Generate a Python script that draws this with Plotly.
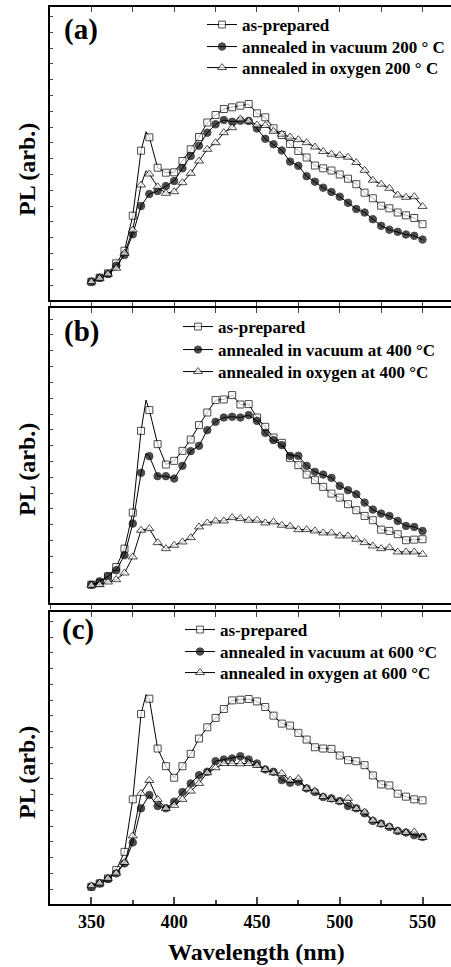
import plotly.graph_objects as go

# Wavelength grid of the plotted markers (nm)
wl = [350, 355, 360, 365, 370, 375, 380, 385, 390, 395, 400, 405, 410, 415, 420,
      425, 430, 435, 440, 445, 450, 455, 460, 465, 470, 475, 480, 485, 490, 495,
      500, 505, 510, 515, 520, 525, 530, 535, 540, 545, 550]

# Panel (a): 200 C
a_prep = [18.3, 22.3, 26.7, 36.7, 49.3, 84.3, 149.3, 162.7, 132.3, 127.3, 127.7, 139, 150.7, 163,
          177.5, 185, 191, 192.7, 194.3, 196, 186.7, 182.7, 171.7, 165, 156, 149, 142.5, 134.5,
          131.7, 129.5, 125.5, 121.3, 115.8, 107.3, 101.7, 94.3, 91.7, 87.5, 84.7, 82, 75.8]
a_vac = [18.3, 22.3, 26, 34.3, 45, 65.7, 94, 106, 109, 114, 119, 131.7, 144, 154.3, 167.3,
         175.7, 180, 178.3, 179.3, 179, 171.5, 161.2, 155.8, 149.6, 138.4, 134.2, 123.8, 118.3,
         112.3, 108, 103.3, 97.2, 91, 87.5, 80.8, 74.2, 70.3, 68.2, 65.5, 64.2, 60.4]
a_oxy = [18.3, 21.7, 26, 31.7, 46.7, 70, 115, 126, 113.3, 106.7, 108.3, 117.3, 126.7, 139, 150.7,
         157.3, 167.3, 172.3, 181, 179, 175, 174.5, 168.7, 165.8, 163, 160.3, 157.3, 153,
         148.5, 145.8, 144.6, 142.8, 137.5, 129.7, 119.8, 115.8, 111.7, 105, 102.7, 103.3, 93.6]
# extra line vertices (line only, between markers)
a_prep_extra = ([383], [168.3])
a_oxy_extra = ([383], [129.3])

# Panel (b): 400 C
b_prep = [18.3, 20, 26.7, 36, 54.3, 90.3, 172, 192.7, 158.7, 138.3, 142, 152, 163.3, 177.7, 190.3,
          202.7, 203.3, 207.7, 198.3, 198.7, 185.3, 176, 165.3, 160, 145, 137.7, 128.3, 122.7,
          116, 109.3, 105.3, 98.7, 92.7, 87, 82.7, 73.3, 72, 68.7, 62.7, 63.3, 63.7]
b_vac = [18.3, 21.7, 26.7, 32.7, 47.7, 79.3, 130, 146.7, 126.7, 126.7, 124.3, 137, 151.7, 157,
         172.7, 181, 185.3, 186, 185.3, 187.7, 182, 170, 162.7, 157.7, 147, 147, 137, 131,
         128.3, 125, 117, 112.7, 108.7, 100.3, 93.3, 89.3, 87, 82, 77, 76, 72]
b_oxy = [17.7, 18.3, 21, 23.3, 30, 46, 72.7, 74.3, 60.3, 54.3, 57.7, 61, 65.3, 76, 80, 82, 82,
         85.3, 84.3, 82.7, 82.7, 80, 81, 77.7, 76.7, 73.3, 73.3, 72, 70, 70, 67, 67, 63.7,
         60.3, 57, 54.3, 55.3, 51, 51, 51, 48.7]
b_prep_extra = ([383], [202.7])
b_vac_extra = ([383], [149.5])

# Panel (c): 600 C
c_prep = [17.3, 20.7, 25.7, 34, 52.3, 105, 190.7, 206, 156, 138.3, 126.7, 138.3, 150.7, 166,
          177.3, 186.7, 195.7, 204.3, 205, 205.7, 203.3, 197.7, 189, 181, 179, 171.7, 165,
          157.3, 156, 155.7, 149, 144.3, 143.3, 139.3, 129, 120, 119, 110.7, 107.7, 105, 104]
c_vac = [17.3, 20.7, 25, 30.7, 40.7, 61.7, 96, 109.3, 98.3, 96, 102.7, 112.3, 121, 129.3, 132.7,
         143.3, 145, 146, 148.3, 145, 141, 135, 132.7, 124.3, 121.7, 122.7, 116, 112.3, 107.3,
         106, 103.3, 98.3, 96, 91, 83.3, 80.7, 77.3, 73.3, 71.7, 69, 67.3]
c_oxy = [18.3, 21, 25.7, 31, 41.7, 68.3, 111, 124, 105, 96, 99, 105, 113.3, 121, 131.7, 136.7,
         141, 141, 140.7, 141, 139, 135, 131.7, 131, 124.3, 125.7, 116, 113.3, 107.7, 105,
         102.7, 106, 95.7, 92.3, 84, 80, 77.7, 73.3, 71.7, 72.3, 66.7]
c_prep_extra = ([383], [210])

legend_a = ["as-prepared", "annealed in vacuum 200 ° C", "annealed in oxygen 200 ° C"]
legend_b = ["as-prepared", "annealed in vacuum at 400 °C", "annealed in oxygen at 400 °C"]
legend_c = ["as-prepared", "annealed in vacuum at 600 °C", "annealed in oxygen at 600 °C"]
x_ticks = [350, 400, 450, 500, 550]

FONT = "Liberation Serif, Times New Roman, serif"
SYMS = ["square", "circle", "triangle-up"]
FILLS = ["white", "black", "white"]
SIZES = [7, 7.5, 8]


def merged(xs, ys, extra):
    ex, ey = extra if extra else ([], [])
    pts = [(x, y, True) for x, y in zip(xs, ys)] + [(x, y, False) for x, y in zip(ex, ey)]
    pts.sort(key=lambda p: p[0])
    return [p[0] for p in pts], [p[1] for p in pts], [p[2] for p in pts]


fig = go.Figure()
panels = [
    ("x", "y", legend_a, [(a_prep, a_prep_extra), (a_vac, None), (a_oxy, a_oxy_extra)]),
    ("x2", "y2", legend_b, [(b_prep, b_prep_extra), (b_vac, b_vac_extra), (b_oxy, None)]),
    ("x3", "y3", legend_c, [(c_prep, c_prep_extra), (c_vac, None), (c_oxy, None)]),
]
leg_ids = []
n = 0
for xa, ya, names, series in panels:
    for k, (vals, extra) in enumerate(series):
        n += 1
        lg = "legend" if n == 1 else "legend%d" % n
        leg_ids.append(lg)
        xs, ys, ismk = merged(wl, vals, extra)
        fig.add_trace(go.Scatter(
            x=xs, y=ys, mode="lines+markers", name=names[k], legend=lg,
            xaxis=xa, yaxis=ya,
            line=dict(color="black", width=1),
            marker=dict(symbol=SYMS[k], color=FILLS[k],
                        size=[SIZES[k] if m else 0 for m in ismk],
                        line=dict(color="black", width=[1 if m else 0 for m in ismk])),
        ))

# dummy traces to anchor top mirror axes
for xa, ya in [("x4", "y"), ("x5", "y2"), ("x6", "y3")]:
    fig.add_trace(go.Scatter(x=[None], y=[None], xaxis=xa, yaxis=ya, showlegend=False,
                             hoverinfo="skip"))

XR = [325, 567.2]
tickfont = dict(family=FONT, size=18, color="black", weight="bold")
base_x = dict(range=XR, showgrid=False, zeroline=False, showline=True, linewidth=2,
              linecolor="black", mirror=True)
doms = [[0.68976, 0.99276], [0.37642, 0.68149], [0.06515, 0.36711]]
yr = [[0, 293], [0, 294.7], [0, 293]]

layout = dict(
    width=451, height=967, margin=dict(l=50, r=0, t=0, b=0),
    paper_bgcolor="white", plot_bgcolor="white",
    font=dict(family=FONT, color="black"),
    showlegend=True,
)
layout["xaxis"] = dict(base_x, anchor="y", showticklabels=False, ticks="outside",
                       tickmode="linear", tick0=350, dtick=25, ticklen=4, tickwidth=1)
layout["xaxis2"] = dict(base_x, anchor="y2", showticklabels=False, ticks="outside",
                        tickmode="linear", tick0=350, dtick=25, ticklen=4, tickwidth=1)
layout["xaxis3"] = dict(base_x, anchor="y3", showticklabels=True, ticks="inside",
                        tickmode="array", tickvals=x_ticks, ticklen=7, tickwidth=1.5,
                        tickfont=tickfont,
                        minor=dict(ticks="inside", tickmode="linear", tick0=375, dtick=50,
                                   ticklen=4, tickwidth=1.5, showgrid=False))
for i, (nm, anc, ov) in enumerate([("xaxis4", "y", "x"), ("xaxis5", "y2", "x2"), ("xaxis6", "y3", "x3")]):
    layout[nm] = dict(range=XR, overlaying=ov, anchor=anc, side="top", showgrid=False,
                      zeroline=False, showline=False, showticklabels=False, ticks="inside",
                      tickmode="linear", tick0=350, dtick=25, ticklen=5, tickwidth=1)
for i, nm in enumerate(["yaxis", "yaxis2", "yaxis3"]):
    layout[nm] = dict(domain=doms[i], range=yr[i], showgrid=False, zeroline=False,
                      showline=True, linewidth=2, linecolor="black", mirror=False,
                      showticklabels=False, ticks="inside", tickmode="linear",
                      tick0=15, dtick=15.8, ticklen=3, tickwidth=1,
                      anchor=["x", "x2", "x3"][i])

legfont = dict(family=FONT, size=17, color="black", weight="bold")
leg_common = dict(bgcolor="rgba(0,0,0,0)", borderwidth=0, font=legfont,
                  xanchor="left", yanchor="top", tracegroupgap=0, itemwidth=30)
# legend rows: (left edge px, row centre px)
leg_left = [202, 202, 202, 178, 178, 178, 180, 180, 180]
leg_row = [25, 47, 68, 327, 350, 372, 630, 652, 673]
for lg, lx, ry in zip(leg_ids, leg_left, leg_row):
    layout[lg] = dict(leg_common, x=(lx - 50) / 401, y=1 - (ry - 18) / 967)

fig.update_layout(**layout)

ann = []
for lab, cx, cy in [("(a)", 81, 29), ("(b)", 81, 331), ("(c)", 78, 629)]:
    ann.append(dict(text=lab, x=(cx - 50) / 401, y=1 - cy / 967, xref="paper", yref="paper",
                    xanchor="center", yanchor="middle", showarrow=False,
                    font=dict(family=FONT, size=29, color="black", weight="bold")))
for cy in [170, 470, 773]:
    ann.append(dict(text="PL (arb.)", x=(27 - 50) / 401, y=1 - cy / 967, xref="paper",
                    yref="paper", textangle=-90, xanchor="center", yanchor="middle",
                    showarrow=False,
                    font=dict(family=FONT, size=24, color="black", weight="bold")))
ann.append(dict(text="Wavelength (nm)", x=450, xref="x3", y=1 - 952 / 967, yref="paper",
                xanchor="center", yanchor="middle", showarrow=False,
                font=dict(family=FONT, size=24, color="black", weight="bold")))
fig.update_layout(annotations=ann)

fig.write_html("out.html")
